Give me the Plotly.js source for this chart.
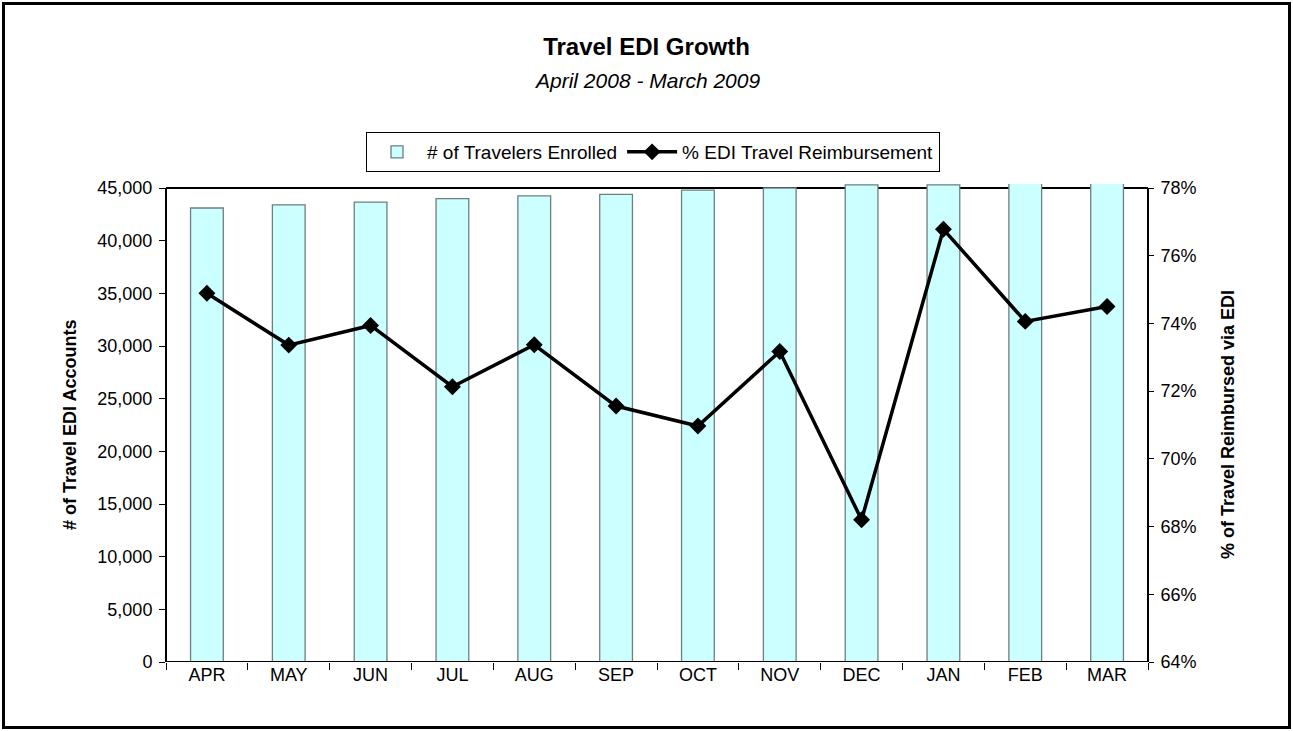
<!DOCTYPE html>
<html>
<head>
<meta charset="utf-8">
<script src="https://cdn.plot.ly/plotly-3.0.1.min.js"></script>
<style>
  html, body { margin: 0; padding: 0; background: #ffffff; }
  #wrap { position: relative; width: 1293px; height: 731px; }
  #chart { position: absolute; left: 0; top: 0; width: 1293px; height: 731px; }
  #frame { position: absolute; left: 2px; top: 2px; width: 1283px; height: 721px;
           border: 3px solid #000; pointer-events: none; }
</style>
</head>
<body>
<div id="wrap">
  <div id="chart"></div>
  <div id="frame"></div>
</div>
<script>
// ---- Data ----
const months = ['APR', 'MAY', 'JUN', 'JUL', 'AUG', 'SEP', 'OCT', 'NOV', 'DEC', 'JAN', 'FEB', 'MAR'];
const travelersEnrolled = [43100, 43400, 43650, 44000, 44250, 44400, 44800, 45000, 45300, 45300, 45700, 45900];
const pctEdiReimbursement = [74.89, 73.36, 73.94, 72.13, 73.37, 71.56, 70.97, 73.17, 68.20, 76.78, 74.06, 74.50];
const leftTicks = [0, 5000, 10000, 15000, 20000, 25000, 30000, 35000, 40000, 45000];
const rightTicks = [64, 66, 68, 70, 72, 74, 76, 78];

const FONT = 'Arial, "Liberation Sans", sans-serif';

// plot-area geometry (pixels)
const L = 166, R = 1148, T = 184, B = 662, W = 1293, H = 731;
const pxPer = (B - 188) / 45000;            // 45,000 sits at y=188
const yMax = (B - T) / pxPer;               // slightly above 45,000
const y2Max = 64 + 14 * (B - T) / (B - 188);

const traces = [
  {
    type: 'bar',
    name: '# of Travelers Enrolled',
    x: months,
    y: travelersEnrolled,
    marker: { color: '#CCFFFF', line: { color: '#6E7F7F', width: 1.3 } },
    yaxis: 'y',
    hoverinfo: 'x+y'
  },
  {
    type: 'scatter',
    mode: 'lines+markers',
    name: '% EDI Travel Reimbursement',
    x: months,
    y: pctEdiReimbursement,
    yaxis: 'y2',
    line: { color: '#000000', width: 3.5 },
    marker: { symbol: 'diamond', size: 13, color: '#000000' }
  }
];

const layout = {
  width: W, height: H,
  paper_bgcolor: '#ffffff', plot_bgcolor: '#ffffff',
  margin: { l: L, r: W - R, t: T, b: H - B, pad: 0 },
  font: { family: FONT, color: '#000000', size: 18 },
  showlegend: true,
  bargap: 0.6,
  title: {
    text: '<b>Travel EDI Growth</b>',
    xref: 'container', x: 0.5, xanchor: 'center',
    yref: 'container', y: 1 - 47 / H, yanchor: 'middle',
    font: { family: FONT, size: 24, color: '#000000' }
  },
  legend: {
    orientation: 'h',
    x: (653 - L) / (R - L), xanchor: 'center',
    y: (B - 132) / (B - T), yanchor: 'top',
    bordercolor: '#000000', borderwidth: 1, bgcolor: '#ffffff',
    font: { family: FONT, size: 19, color: '#000000' },
    traceorder: 'normal', itemwidth: 50,
    tracegroupgap: 0
  },
  xaxis: {
    type: 'category',
    range: [-0.5, 11.5],
    tickson: 'boundaries',
    ticks: 'outside', ticklen: 7, tickcolor: '#000000', tickwidth: 1,
    showline: false,
    showgrid: false, zeroline: false,
    tickfont: { family: FONT, size: 18, color: '#000000' },
    fixedrange: true
  },
  yaxis: {
    range: [0, yMax],
    tickvals: leftTicks,
    ticktext: leftTicks.map(v => v.toLocaleString('en-US')),
    ticks: 'outside', ticklen: 6, tickcolor: '#000000', tickwidth: 1,
    showline: false, showgrid: false, zeroline: false,
    tickfont: { family: FONT, size: 18, color: '#000000' },
    ticklabelstandoff: 3,
    fixedrange: true
  },
  yaxis2: {
    overlaying: 'y', side: 'right',
    range: [64, y2Max],
    tickvals: rightTicks,
    ticktext: rightTicks.map(v => v + '%'),
    ticks: 'outside', ticklen: 5, tickcolor: '#000000', tickwidth: 1,
    showline: false, showgrid: false, zeroline: false,
    tickfont: { family: FONT, size: 18, color: '#000000' },
    ticklabelstandoff: 3,
    fixedrange: true
  },
  shapes: [
    // plot-area frame from 0 to 45,000 (top edge drawn beneath the bars)
    { type: 'line', layer: 'below', xref: 'paper', yref: 'y', x0: 0, x1: 1, y0: 45000, y1: 45000,
      line: { color: '#000000', width: 2 } },
    { type: 'line', layer: 'above', xref: 'paper', yref: 'y', x0: 0, x1: 0, y0: 0, y1: 45000,
      line: { color: '#000000', width: 2 } },
    { type: 'line', layer: 'above', xref: 'paper', yref: 'y', x0: 1, x1: 1, y0: 0, y1: 45000,
      line: { color: '#000000', width: 2 } },
    { type: 'line', layer: 'above', xref: 'paper', yref: 'y', x0: 0, x1: 1, y0: 0, y1: 0,
      line: { color: '#000000', width: 2 } }
  ],
  annotations: [
    {
      text: '<i>April 2008 - March 2009</i>',
      xref: 'paper', x: (646.5 - L) / (R - L), xanchor: 'center',
      yref: 'paper', y: (B - 80) / (B - T), yanchor: 'middle',
      showarrow: false,
      font: { family: FONT, size: 21, color: '#000000' }
    },
    {
      text: '<b># of Travel EDI Accounts</b>',
      xref: 'paper', x: (70 - L) / (R - L), xanchor: 'center',
      yref: 'paper', y: (B - 425) / (B - T), yanchor: 'middle',
      textangle: -90, showarrow: false,
      font: { family: FONT, size: 18, color: '#000000' }
    },
    {
      text: '<b>% of Travel Reimbursed via EDI</b>',
      xref: 'paper', x: (1228 - L) / (R - L), xanchor: 'center',
      yref: 'paper', y: (B - 425) / (B - T), yanchor: 'middle',
      textangle: -90, showarrow: false,
      font: { family: FONT, size: 18, color: '#000000' }
    }
  ]
};

Plotly.newPlot('chart', traces, layout, { displayModeBar: false, staticPlot: true });
</script>
</body>
</html>
